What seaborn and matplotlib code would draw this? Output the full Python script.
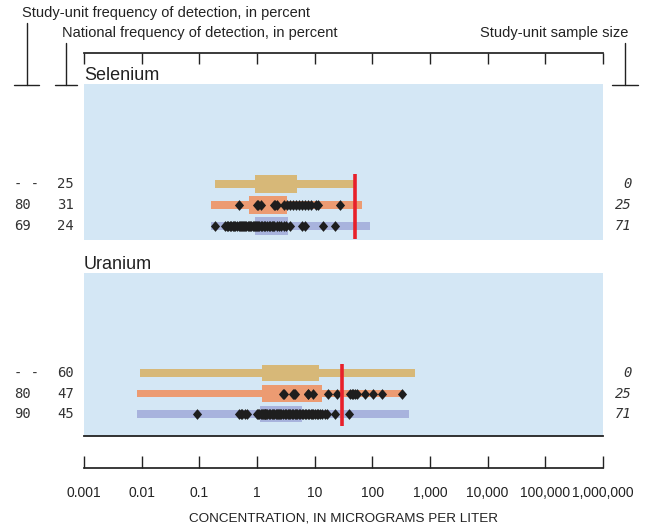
import matplotlib
matplotlib.use("Agg")
import matplotlib.pyplot as plt
import matplotlib.transforms as mtransforms
from matplotlib.lines import Line2D
import seaborn as sns
import pandas as pd

W, H = 657, 529

# ---- data (rows top to bottom: national, study unit n=25, study unit n=71)
row_colors = ["#D7B878", "#EC9B72", "#A8B3DD"]
tick_values = [0.001, 0.01, 0.1, 1, 10, 100, 1000, 10000, 100000, 1000000]
tick_labels = ["0.001", "0.01", "0.1", "1", "10", "100", "1,000", "10,000",
               "100,000", "1,000,000"]

se_study_freq = ["- -", "80", "69"]
se_nat_freq = ["25", "31", "24"]
se_sample_size = ["0", "25", "71"]
se_min = [0.19, 0.16, 0.16]
se_p25 = [0.92, 0.73, 0.92]
se_p75 = [4.9, 3.3, 3.45]
se_max = [50, 66, 91]
se_benchmark = 50
se_detect_25 = [0.49, 1.0, 1.05, 1.17, 1.97, 2.05, 2.22, 2.94, 3.31, 3.73, 4.21,
                4.74, 5.35, 6.03, 6.79, 7.66, 8.63, 10.5, 11.4, 27.5]
se_detect_71 = [0.19, 0.28, 0.3, 0.32, 0.34, 0.36, 0.38, 0.4, 0.42, 0.45, 0.48,
                0.5, 0.52, 0.55, 0.58, 0.6, 0.62, 0.65, 0.7, 0.72, 0.75, 0.8,
                0.85, 0.9, 0.92, 0.95, 1.0, 1.05, 1.1, 1.15, 1.2, 1.3, 1.4, 1.5,
                1.6, 1.7, 1.8, 1.9, 2.0, 2.2, 2.4, 2.6, 2.9, 3.2, 3.7, 6.0, 6.8,
                13.9, 22.5]

u_study_freq = ["- -", "80", "90"]
u_nat_freq = ["60", "47", "45"]
u_sample_size = ["0", "25", "71"]
u_min = [0.0093, 0.0083, 0.0083]
u_p25 = [1.22, 1.22, 1.13]
u_p75 = [11.9, 13.4, 6.03]
u_max = [550, 340, 432]
u_benchmark = 30
u_detect_25 = [2.82, 2.9, 4.2, 4.3, 4.56, 7.66, 7.8, 9.35, 17.0, 24.4, 41, 44,
               46, 50, 54, 75, 103, 147, 327]
u_detect_71 = [0.091, 0.49, 0.52, 0.55, 0.62, 0.67, 1.0, 1.05, 1.1, 1.15, 1.2,
               1.25, 1.3, 1.35, 1.4, 1.45, 1.5, 1.6, 1.7, 1.8, 1.9, 2.0, 2.1,
               2.2, 2.3, 2.4, 2.5, 2.6, 2.8, 3.0, 3.2, 3.4, 3.6, 3.8, 4.0, 4.2,
               4.5, 4.8, 5.0, 5.3, 5.6, 6.0, 6.4, 6.8, 7.2, 7.6, 8.0, 8.5, 9.0,
               9.5, 10.0, 10.8, 11.5, 12.5, 13.5, 15.0, 16.4, 22.5, 39.4]

sns.set_theme(style="white")
plt.rcParams["font.family"] = ["Liberation Sans", "DejaVu Sans"]
ink = "#222222"


def px(x, y):
    return x / W, 1 - y / H


def panel(rect, name, study_freq, nat_freq, n, vmin, p25, p75, vmax, bench,
          det25, det71, ylim, bottom_line):
    ax = fig.add_axes(rect)
    ax.set_facecolor("#D4E7F5")
    ax.set_xscale("log")
    ax.set_xlim(1e-3, 1e6)
    for s in ax.spines.values():
        s.set_visible(False)
    if bottom_line:
        ax.spines["bottom"].set_visible(True)
        ax.spines["bottom"].set_color(ink)
        ax.spines["bottom"].set_linewidth(1.3)
    rows = range(3)
    for i in rows:
        ax.barh(i, vmax[i] - vmin[i], left=vmin[i], height=0.38,
                color=row_colors[i], linewidth=0, zorder=2)
        ax.barh(i, p75[i] - p25[i], left=p25[i], height=0.82,
                color=row_colors[i], linewidth=0, zorder=3)
    pts = pd.DataFrame({"value": det25 + det71,
                        "row": [1] * len(det25) + [2] * len(det71)})
    sns.scatterplot(data=pts, x="value", y="row", ax=ax, color="#1e1e1e",
                    marker=[(0, 1), (0.85, 0), (0, -1), (-0.85, 0)],
                    s=60, linewidth=0, zorder=4, legend=False)
    ax.vlines(bench, -0.45, 2.6, color="#E8202A", linewidth=2.6, zorder=5)
    ax.set_xlabel("")
    ax.set_ylabel("")
    ax.set_xticks([])
    ax.set_yticks([])
    ax.minorticks_off()
    ax.set_ylim(*ylim)
    ax.text(0, 1, name, transform=ax.transAxes, fontsize=13, color=ink,
            ha="left", va="bottom")
    tr = mtransforms.blended_transform_factory(fig.transFigure, ax.transData)
    mono = dict(family="DejaVu Sans Mono", fontsize=10, color="#333333",
                va="center")
    for i in rows:
        ax.text(14 / W, i, study_freq[i], transform=tr, ha="left", **mono)
        ax.text(57 / W, i, nat_freq[i], transform=tr, ha="left", **mono)
        ax.text(632 / W, i, n[i], transform=tr, ha="right", style="italic",
                **mono)
    return ax


fig = plt.figure(figsize=(W / 100, H / 100), dpi=100)

l, r = 84 / W, 519 / W
panel([l, 1 - 240 / H, r, 156 / H], "Selenium", se_study_freq, se_nat_freq,
      se_sample_size, se_min, se_p25, se_p75, se_max, se_benchmark,
      se_detect_25, se_detect_71, (2.67, -4.76), False)
panel([l, 1 - 436 / H, r, 163 / H], "Uranium", u_study_freq, u_nat_freq,
      u_sample_size, u_min, u_p25, u_p75, u_max, u_benchmark,
      u_detect_25, u_detect_71, (3.07, -4.88), True)

# top scale bar
ax_top = fig.add_axes([l, 1 - 64 / H, r, 11 / H])
ax_top.patch.set_alpha(0)
ax_top.set_xscale("log")
ax_top.set_xlim(1e-3, 1e6)
ax_top.set_xticks(tick_values)
ax_top.minorticks_off()
ax_top.set_yticks([])
for k, s in ax_top.spines.items():
    s.set_visible(k == "top")
ax_top.spines["top"].set_color(ink)
ax_top.tick_params(axis="x", top=True, bottom=False, labeltop=False,
                   labelbottom=False, direction="in", length=8, width=1,
                   color=ink)

# bottom scale bar
ax_bot = fig.add_axes([l, 1 - 468 / H, r, 12 / H])
ax_bot.patch.set_alpha(0)
ax_bot.set_xscale("log")
ax_bot.set_xlim(1e-3, 1e6)
ax_bot.set_xticks(tick_values)
ax_bot.set_xticklabels(tick_labels)
ax_bot.minorticks_off()
ax_bot.set_yticks([])
for k, s in ax_bot.spines.items():
    s.set_visible(k == "bottom")
ax_bot.spines["bottom"].set_color(ink)
ax_bot.tick_params(axis="x", bottom=True, direction="in", length=8.5, width=1,
                   color=ink, pad=13, labelsize=10, labelcolor=ink)
ax_bot.set_xlabel("CONCENTRATION, IN MICROGRAMS PER LITER", fontsize=9.7,
                  color=ink, labelpad=9)

# header labels with leader marks
fig.text(*px(22, 13), "Study-unit frequency of detection, in percent",
         fontsize=10.5, color=ink, va="center")
fig.text(*px(62, 33), "National frequency of detection, in percent",
         fontsize=10.5, color=ink, va="center")
fig.text(*px(628, 33), "Study-unit sample size", fontsize=10.5, color=ink,
         va="center", ha="right")
for xc, ytop, x0, x1 in [(27, 23, 14, 39), (66, 43, 55, 77),
                         (625, 43, 612, 638)]:
    for (xa, ya), (xb, yb) in [((xc, ytop), (xc, 85)), ((x0, 85), (x1, 85))]:
        p1, p2 = px(xa, ya), px(xb, yb)
        fig.add_artist(Line2D([p1[0], p2[0]], [p1[1], p2[1]],
                              transform=fig.transFigure, color=ink, lw=1))

fig.savefig("out.png", dpi=100)
